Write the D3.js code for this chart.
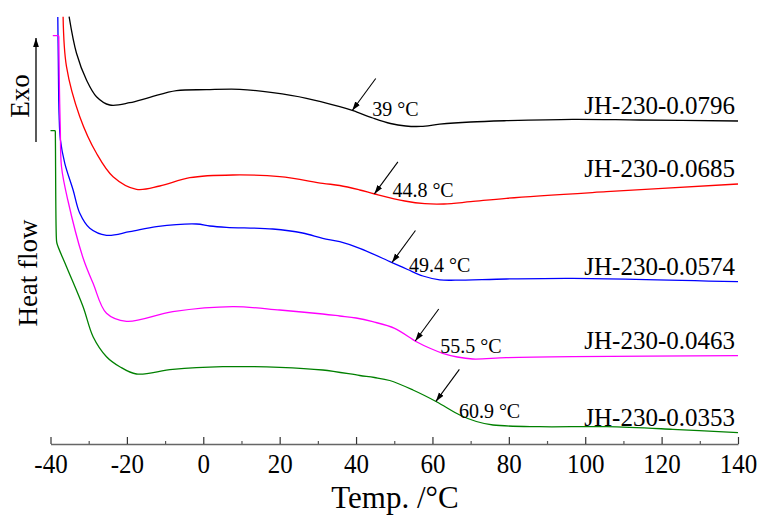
<!DOCTYPE html>
<html>
<head>
<meta charset="utf-8">
<script src="https://cdn.jsdelivr.net/npm/d3@7"></script>
<style>
body { margin: 0; background: #fff; }
svg text { font-family: "Liberation Serif", "Times New Roman", serif; fill: #000; }
</style>
</head>
<body>
<div id="chart"></div>
<script>
//////////////////////////////////////////////
// Data //////////////////////////////////////
//////////////////////////////////////////////
// DSC traces: [temperature °C, heat flow (a.u., curves offset)]

var names = ["JH-230-0.0796", "JH-230-0.0685", "JH-230-0.0574", "JH-230-0.0463", "JH-230-0.0353"];
var onsets = [39, 44.8, 49.4, 55.5, 60.9];
var xTicks = [-40, -20, 0, 20, 40, 60, 80, 100, 120, 140];

var s0796 = [[-35.13,428.3],[-33.19,391.7],[-30.58,365],[-27.96,348.3],[-24.48,340],[-19.24,342.3],
  [-14.0,347.7],[-7.02,354.3],[0.84,355.3],[9.55,355.7],[18.19,352.3],[27.02,346.7],[35.73,338.3],
  [39.21,334.3],[44.37,327],[49,321.5],[53,319],[57,318.6],[61.91,320.8],[70,323],[79.37,324.3],
  [96.73,325.7],[114.27,325],[140,324]];

var s0685 = [[-36.7,428.3],[-35.81,378.3],[-32.33,328.3],[-27.96,291.7],[-23.61,268.3],[-17.49,255.7],
  [-11.39,259],[-3.53,267.3],[7.72,270],[20.03,268.3],[31.28,261.7],[35.73,259.5],[40.97,255],[44.9,251],
  [52.75,244],[58,241.3],[63,241],[70,243.3],[79.37,246.7],[105.55,253.3],[140,261]];

var s0574 = [[-38.09,428],[-37.96,385],[-37.75,330],[-37.4,305],[-36.26,281.7],[-34.08,255],
  [-32.33,231.7],[-29.71,216.7],[-25.34,209.7],[-19.24,213.3],[-12.25,218.3],[-1.78,221],[1.7,219],
  [6.07,217.7],[18.19,216],[26,212],[31.28,206.7],[35.73,203.3],[40.97,196.7],[49.27,182.7],
  [53.5,175.5],[57.5,169],[61.91,165.2],[66,164.8],[79.37,166],[96.73,166.7],[140,163.3]];

var s0463 = [[-39.4,409.3],[-38.0,409.3],[-37.86,408.9],[-37.82,405],[-37.7,365],[-37.43,315],
  [-37.12,278.3],[-35.47,245],[-31.47,187],[-28.85,161.7],[-25.34,131.7],[-20.1,123.7],[-7.98,133.3],
  [7.72,138.3],[20.03,135],[31.28,131],[35.73,129],[40,127],[44.37,123.3],[50.1,116.7],[55.81,103.3],
  [59.5,96.5],[62.7,91.7],[66.5,88],[70.55,86],[79.37,87.3],[96.73,88.3],[140,89.3]];

var s0353 = [[-40,314.3],[-38.9,314.3],[-38.77,313.9],[-38.73,310],[-38.45,206],[-38.3,201.5],
  [-35.81,178.3],[-31.47,138.3],[-28.85,108.3],[-25.34,88.3],[-21.86,78.3],[-17.49,71],[-7.98,75.7],
  [5.1,78.3],[20.03,77.7],[31.28,75],[40.97,69.5],[44.8,67.5],[48.82,64.5],[54.9,55],[61.05,43.3],
  [67.15,30],[71.5,23.5],[75.86,20],[88.09,18.3],[105.55,18.3],[122.9,15.7],[140,12.3]];

var series = [s0796, s0685, s0574, s0463, s0353];

//////////////////////////////////////////////
// Chart Config //////////////////////////////
//////////////////////////////////////////////
var W = 758, H = 515;
var colors = ["#000000", "#ff0000", "#0000ff", "#ff00ff", "#008000"];
// onset label offsets from arrow tip (px)
var labelOffset = [[20, 6], [18, 3], [17, 9], [25, 12], [23, 17]];

var xScale = d3.scaleLinear().domain([-40, 140]).range([50.5, 738]);
var yScale = d3.scaleLinear().domain([0, 430]).range([445, 15]);

var svg = d3.select("#chart").append("svg")
    .attr("width", W).attr("height", H);

var defs = svg.append("defs");
defs.append("clipPath").attr("id", "plot")
  .append("rect").attr("x", 40).attr("y", 15).attr("width", 710).attr("height", 440);
defs.append("marker").attr("id", "head")
    .attr("viewBox", "0 0 10 10").attr("refX", 10).attr("refY", 5)
    .attr("markerWidth", 9).attr("markerHeight", 9)
    .attr("markerUnits", "userSpaceOnUse")
    .attr("orient", "auto")
  .append("path").attr("d", "M0,1.8L10,5L0,8.2Z").attr("fill", "#000");

//////////////////////////////////////////////
// Axis //////////////////////////////////////
//////////////////////////////////////////////
var minor = d3.range(-30, 140, 20);
svg.append("g")
    .attr("transform", "translate(0,444)")
    .call(d3.axisBottom(xScale).tickValues(minor).tickSize(-3).tickSizeOuter(0).tickFormat(""))
    .call(function(g) { g.select(".domain").remove(); })
    .selectAll("line").attr("stroke", "#555").attr("stroke-width", 1.2);

var xAxisEl = svg.append("g")
    .attr("transform", "translate(0,444)")
    .call(d3.axisBottom(xScale).tickValues(xTicks).tickSize(-7).tickSizeOuter(0)
      .tickPadding(9).tickFormat(function(d) { return String(d); }));
xAxisEl.select(".domain").attr("stroke", "#666").attr("stroke-width", 1.6);
xAxisEl.selectAll("line").attr("stroke", "#333").attr("stroke-width", 1.2);
// labels in the original are a little taller than wide
xAxisEl.selectAll("text").attr("font-size", 25).attr("font-family", null)
    .attr("transform", "scale(1,1.1)");

svg.append("text")
    .attr("x", 395).attr("y", 508)
    .attr("text-anchor", "middle")
    .attr("font-size", 31)
    .text("Temp. /°C");

svg.append("text")
    .attr("transform", "translate(37,273) rotate(-90)")
    .attr("text-anchor", "middle")
    .attr("font-size", 27)
    .text("Heat flow");

svg.append("text")
    .attr("transform", "translate(29,96) rotate(-90)")
    .attr("text-anchor", "middle")
    .attr("font-size", 27)
    .text("Exo");

svg.append("line")
    .attr("x1", 36).attr("x2", 36).attr("y1", 142).attr("y2", 38)
    .attr("stroke", "#000").attr("stroke-width", 1.3)
    .attr("marker-end", "url(#head)");

//////////////////////////////////////////////
// Curves ////////////////////////////////////
//////////////////////////////////////////////
var line = d3.line()
    .x(function(d) { return xScale(d[0]); })
    .y(function(d) { return yScale(d[1]); })
    .curve(d3.curveCatmullRom.alpha(0.5));

var plot = svg.append("g").attr("clip-path", "url(#plot)");
plot.selectAll("path.trace").data(series).enter()
  .append("path").attr("class", "trace")
    .attr("d", line)
    .attr("fill", "none")
    .attr("stroke", function(d, i) { return colors[i]; })
    .attr("stroke-width", 1.3);

function valueAt(s, t) {
  var i = d3.bisector(function(d) { return d[0]; }).left(s, t);
  if (i <= 0) return s[0][1];
  if (i >= s.length) return s[s.length - 1][1];
  var a = s[i - 1], b = s[i];
  return a[1] + (b[1] - a[1]) * (t - a[0]) / (b[0] - a[0]);
}

// sample names
svg.selectAll("text.name").data(names).enter()
  .append("text").attr("class", "name")
    .attr("x", xScale(140) - 3)
    .attr("y", function(d, i) { var s = series[i]; return yScale(s[s.length - 1][1]) - 7; })
    .attr("text-anchor", "end")
    .attr("font-size", 25)
    .text(function(d) { return d; });

// onset arrows + labels
onsets.forEach(function(t, i) {
  var tx = xScale(t), ty = yScale(valueAt(series[i], t));
  svg.append("line")
      .attr("x1", tx + 23.5).attr("y1", ty - 32)
      .attr("x2", tx).attr("y2", ty)
      .attr("stroke", "#000").attr("stroke-width", 1.1)
      .attr("marker-end", "url(#head)");
  svg.append("text")
      .attr("x", tx + labelOffset[i][0]).attr("y", ty + labelOffset[i][1])
      .attr("font-size", 20)
      .text(t + " °C");
});
</script>
</body>
</html>
